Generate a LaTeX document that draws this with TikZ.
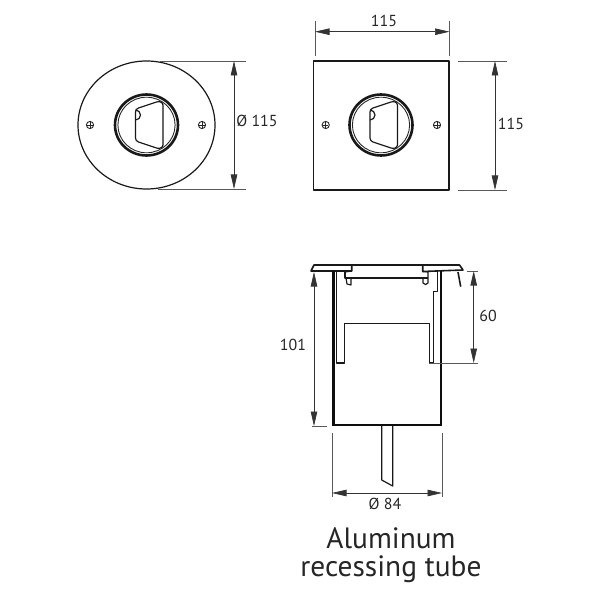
\documentclass[tikz,border=0pt]{standalone}
\usepackage{fontspec}
\setmainfont{PT Sans}
\usetikzlibrary{arrows.meta}
\tikzset{
 part/.style={draw=black!90,line width=1.2pt,line join=round},
 wall/.style={draw=black!95,line width=2.3pt},
 thin/.style={draw=black!85,line width=0.9pt},
 dim/.style={draw=black!80,line width=0.7pt,{Triangle[length=14.5bp,width=6.5bp]}-{Triangle[length=14.5bp,width=6.5bp]}},
 ext/.style={draw=black!65,line width=0.8pt},
 lbl/.style={font=\fontsize{16}{18}\selectfont,text=black!85,inner sep=0pt},
 title/.style={font=\fontsize{29.5}{28.1}\selectfont,text=black!85,inner sep=0pt,align=center},
 pics/lamp/.style={code={
  \draw[line width=2.6pt,draw=black!90] (0,0) ellipse [x radius=31.5,y radius=30.5];
  \draw[thin] (0,0) ellipse [x radius=28.6,y radius=27.8];
  \draw[part] (16.5,-20) .. controls (16,-23) and (13,-24) .. (10,-23) -- (-8,-17) .. controls (-10,-16.2) and (-11,-15) .. (-11,-13) -- (-11,13) .. controls (-11,15) and (-10,16.2) .. (-8,17) -- (10,23) .. controls (13,24) and (16,23) .. (16.5,20) -- cycle;
  \draw[part] (-11,-5) arc [start angle=90,end angle=-90,x radius=5,y radius=5];
 }},
 pics/screw/.style={code={
  \draw[thin] (0,0) circle [radius=3.6];
  \draw[thin] (-2.6,0) -- (2.6,0) (0,-2.6) -- (0,2.6);
 }}
}
\begin{document}
\begin{tikzpicture}[x=1bp,y=-1bp]
\useasboundingbox (0,0) rectangle (600,600);
% round view
\draw[part] (146.5,125) ellipse [x radius=68.5,y radius=64];
\pic at (146.5,125) {lamp};
\pic at (90,125) {screw};
\pic at (202,125) {screw};
\coordinate (ct) at (234,61); \coordinate (cb) at (234,189);
\draw[ext] (160,61) -- (246,61) (158,189) -- (246,189);
\draw[dim] (ct) -- (cb);
\node[lbl] (dcirc) at (257,121) {Ø 115};
% square view
\draw[part] (313.5,61) rectangle (449,190);
\pic at (381,125) {lamp};
\pic at (325.7,125) {screw};
\pic at (437,125) {screw};
\coordinate (sl) at (315,31.7); \coordinate (sr) at (449.5,31.7);
\draw[ext] (315,21) -- (315,56) (449.5,21) -- (449.5,56);
\draw[dim] (sl) -- (sr);
\node[lbl] (dtop) at (384,21) {115};
\coordinate (st) at (495,61); \coordinate (sb) at (495,190);
\draw[ext] (458,61) -- (507,61) (458,190) -- (507,190);
\draw[dim] (st) -- (sb);
\node[lbl] (dright) at (511,124) {115};
% side view: flanges
\draw[part,line width=1.6pt] (311,271) -- (314,265) -- (351.7,265) -- (351.7,271) -- cycle;
\draw[part,line width=1.6pt] (422.7,265) -- (459.5,265) -- (463,270) -- (422.7,271.5) -- cycle;
\draw[part] (351.7,265) -- (422.7,265);
\draw[part] (345,272) -- (345,278) -- (428,278);
\draw[part] (345,272) -- (351.7,271);
\draw[part] (422.7,271.5) -- (428,272) -- (428,278);
\draw[part] (346,278) -- (347,284) -- (351,285) -- (351,278);
\draw[part] (423,278) -- (423,283) .. controls (424,285) and (427,285) .. (428,283) -- (428,278);
\draw[part,line width=1.6pt] (458,272) -- (460.7,286.7);
% tube
\draw[wall] (333.5,271) -- (333.5,425) -- (441,425) -- (441,271);
\draw[part] (336.7,271) -- (336.7,363) -- (344.3,363) -- (344.3,323.3) -- (429.3,323.3) -- (429.3,363) -- (433.3,363) -- (433.3,291.7) -- (437.7,291.7) -- (437.7,271);
% cable
\draw[part] (381.7,426) -- (381.7,480) -- (392.7,486) -- (392.7,426);
% 60
\coordinate (st60) at (473.7,271); \coordinate (sb60) at (473.7,363);
\draw[ext] (467,271) -- (478,271) (429.3,363) -- (478,363);
\draw[dim] (st60) -- (sb60);
\node[lbl] (d60) at (488,316) {60};
% 101
\coordinate (st101) at (314,272); \coordinate (sb101) at (314,426);
\draw[ext] (311.7,426) -- (326.7,426);
\draw[dim] (st101) -- (sb101);
\node[lbl] (d101) at (293,345) {101};
% 84
\coordinate (sl84) at (332,493); \coordinate (sr84) at (442,493);
\draw[ext] (332,433) -- (332,497) (442,433) -- (442,497);
\draw[dim] (sl84) -- (sr84);
\node[lbl] (d84) at (385,504) {Ø 84};
\node[title] (t1) at (391,555) {Aluminum\\recessing tube};
\end{tikzpicture}
\end{document}
